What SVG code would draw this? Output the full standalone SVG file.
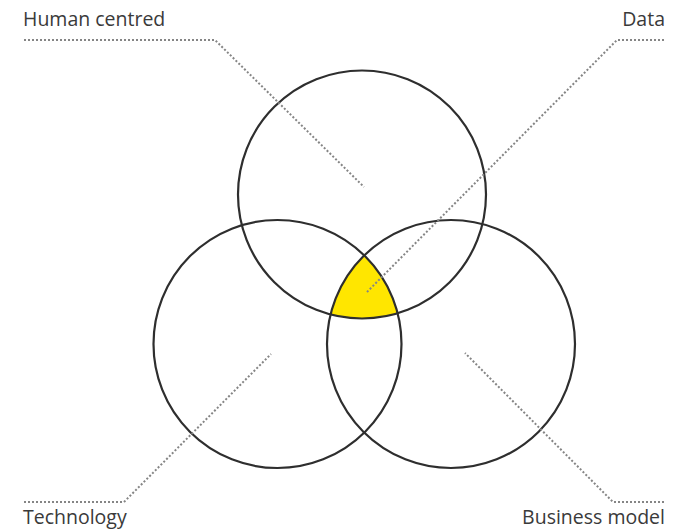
<svg xmlns="http://www.w3.org/2000/svg" width="688" height="531" viewBox="0 0 688 531">
  <style>
    .ring { fill: none; stroke: #2e2e2e; stroke-width: 2.2; }
    .lead { fill: none; stroke: #858585; stroke-width: 2; stroke-dasharray: 2 2; }
    .label { font-family: "Open Sans", "Noto Sans", "Liberation Sans", sans-serif; font-size: 19.5px; fill: #3a3a3a; }
  </style>
  <defs>
    <clipPath id="clipLeft"><circle cx="277.5" cy="344" r="124"/></clipPath>
    <clipPath id="clipRight"><circle cx="451" cy="344" r="124"/></clipPath>
  </defs>

  <!-- shared core: area common to all three circles -->
  <g id="core" clip-path="url(#clipLeft)">
    <circle cx="362" cy="194.5" r="124" fill="#ffe600" clip-path="url(#clipRight)"/>
  </g>

  <g id="human-centred">
    <circle class="ring" cx="362" cy="194.5" r="124"/>
    <text class="label" x="23" y="26">Human centred</text>
  </g>
  <g id="technology">
    <circle class="ring" cx="277.5" cy="344" r="124"/>
    <text class="label" x="23" y="524">Technology</text>
  </g>
  <g id="business-model">
    <circle class="ring" cx="451" cy="344" r="124"/>
    <text class="label" x="665" y="524" text-anchor="end">Business model</text>
  </g>
  <g id="data">
    <text class="label" x="665" y="26" text-anchor="end">Data</text>
  </g>

  <g id="connectors">
    <polyline class="lead" points="24,40 215,40 364,187"/>
    <polyline class="lead" points="664,40 617,40 366,293"/>
    <polyline class="lead" points="24,502 124,502 271,354"/>
    <polyline class="lead" points="664,502 613,502 465,353"/>
  </g>
</svg>
